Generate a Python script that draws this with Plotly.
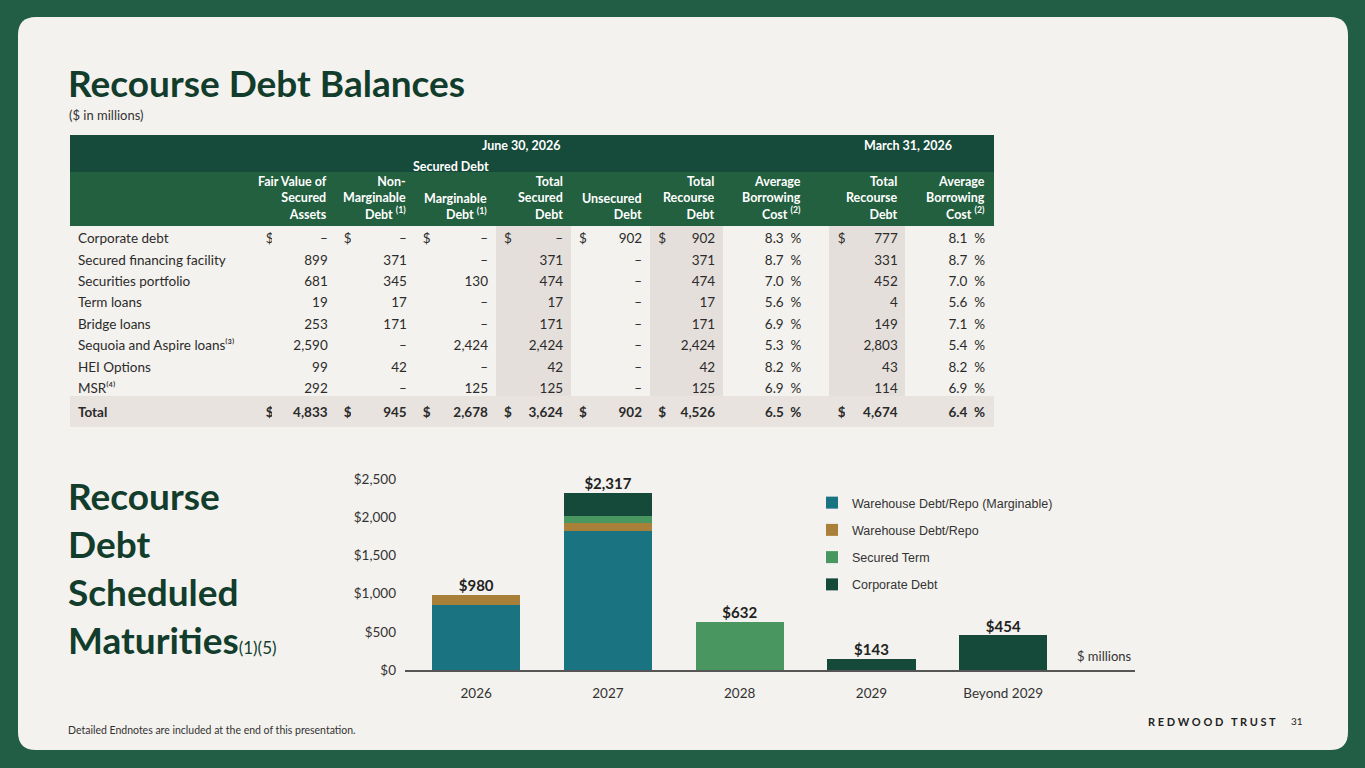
import plotly.graph_objects as go

W, H = 1365, 768
def px(x): return x / W
def py(y): return 1 - y / H

# ---------- data ----------
row_labels = ["Corporate debt", "Secured financing facility", "Securities portfolio", "Term loans",
              "Bridge loans", "Sequoia and Aspire loans⁽³⁾", "HEI Options", "MSR⁽⁴⁾", "<b>Total</b>"]
fair_value = ["–", "899", "681", "19", "253", "2,590", "99", "292", "4,833"]
non_marg = ["–", "371", "345", "17", "171", "–", "42", "–", "945"]
marg = ["–", "–", "130", "–", "–", "2,424", "–", "125", "2,678"]
tot_secured = ["–", "371", "474", "17", "171", "2,424", "42", "125", "3,624"]
unsecured = ["902", "–", "–", "–", "–", "–", "–", "–", "902"]
tot_recourse = ["902", "371", "474", "17", "171", "2,424", "42", "125", "4,526"]
avg_cost = ["8.3  %", "8.7  %", "7.0  %", "5.6  %", "6.9  %", "5.3  %", "8.2  %", "6.9  %", "6.5  %"]
mar_tot_recourse = ["777", "331", "452", "4", "149", "2,803", "43", "114", "4,674"]
mar_avg_cost = ["8.1  %", "8.7  %", "7.0  %", "5.6  %", "7.1  %", "5.4  %", "8.2  %", "6.9  %", "6.4  %"]

years = ["2026", "2027", "2028", "2029", "Beyond 2029"]
wh_marginable = [845, 1820, 0, 0, 0]
wh_repo = [135, 100, 0, 0, 0]
secured_term = [0, 90, 632, 0, 0]
corporate = [0, 307, 0, 143, 454]

# ---------- table ----------
def bold_last(col):
    return col[:-1] + ["<b>" + col[-1] + "</b>"]
DOL = ["$"] + [""] * 7 + ["<b>$</b>"]

cols = [
    ("", row_labels, 185, "left", False),
    ("", DOL, 15, "left", False),
    ("Fair Value of<br>Secured<br>Assets", bold_last(fair_value), 62, "right", False),
    ("", DOL, 16, "left", False),
    ("Non-<br>Marginable<br>Debt <sup>(1)</sup>", bold_last(non_marg), 62, "right", False),
    ("", DOL, 16, "left", False),
    ("Marginable<br>Debt <sup>(1)</sup>", bold_last(marg), 64, "right", False),
    ("", DOL, 16, "left", True),
    ("Total<br>Secured<br>Debt", bold_last(tot_secured), 58, "right", True),
    ("", DOL, 16, "left", False),
    ("Unsecured<br>Debt", bold_last(unsecured), 62, "right", False),
    ("", DOL, 16, "left", True),
    ("Total<br>Recourse<br>Debt", bold_last(tot_recourse), 56, "right", True),
    ("Average<br>Borrowing<br>Cost <sup>(2)</sup>", bold_last(avg_cost), 85, "right", False),
    ("", [""] * 9, 20, "left", False),
    ("", DOL, 16, "left", True),
    ("Total<br>Recourse<br>Debt", bold_last(mar_tot_recourse), 59, "right", True),
    ("Average<br>Borrowing<br>Cost <sup>(2)</sup>", bold_last(mar_avg_cost), 86, "right", False),
]
BG = "#f4f2ee"
SHADE = "#e5dfdb"
TOT = "#e8e3df"
fills = [[SHADE if c[4] else BG] * 8 + [TOT] for c in cols]
fills[14] = [BG] * 8 + [TOT]

TX0, TX1 = 70, 994
table = go.Table(
    domain=dict(x=[px(TX0), px(TX1)], y=[py(428), py(172)]),
    columnwidth=[c[2] for c in cols],
    header=dict(values=[""] * len(cols), fill_color="#23603f", line_color="#23603f", height=53),
    cells=dict(values=[c[1] for c in cols], fill_color=fills, line_color=fills,
               height=21.4, align=[c[3] for c in cols],
               font=dict(family="Lato", size=13.5, color="#2b2b2b")),
)

# ---------- bars ----------
xs = list(range(len(years)))
bar_specs = [("Warehouse Debt/Repo (Marginable)", wh_marginable, "#1a7380"),
             ("Warehouse Debt/Repo", wh_repo, "#a8803a"),
             ("Secured Term", secured_term, "#4a9660"),
             ("Corporate Debt", corporate, "#154a3a")]
traces = [table]
for i, (nm, vals, col) in enumerate(bar_specs):
    traces.append(go.Bar(x=xs, y=vals, name=nm, marker=dict(color=col, line_width=0),
                         width=0.67, legendgroup=f"g{i}", xaxis="x", yaxis="y"))
totals = [sum(v) for v in zip(wh_marginable, wh_repo, secured_term, corporate)]
traces.append(go.Scatter(x=xs, y=totals, mode="text", text=[f"<b>${t:,}</b>" for t in totals],
                         textposition="top center", showlegend=False, cliponaxis=False,
                         textfont=dict(family="Lato", size=15, color="#222")))

fig = go.Figure(traces)

card = (f"M {px(36)},{py(17)} L {px(1330)},{py(17)} Q {px(1348)},{py(17)} {px(1348)},{py(35)} "
        f"L {px(1348)},{py(732)} Q {px(1348)},{py(750)} {px(1330)},{py(750)} "
        f"L {px(36)},{py(750)} Q {px(18)},{py(750)} {px(18)},{py(732)} "
        f"L {px(18)},{py(35)} Q {px(18)},{py(17)} {px(36)},{py(17)} Z")
shapes = [
    dict(type="path", path=card, xref="paper", yref="paper", fillcolor=BG, line_width=0, layer="below"),
    dict(type="rect", xref="paper", yref="paper", x0=px(TX0), x1=px(TX1), y0=py(172), y1=py(135),
         fillcolor="#164a3a", line_width=0),
]
ann = [
    dict(x=px(66), y=py(82), text="<b>Recourse Debt Balances</b>", font=dict(family="Lato", size=37, color="#123d2c")),
    dict(x=px(67), y=py(115), text="($ in millions)", font=dict(family="Lato", size=13, color="#333")),
    dict(x=px(66), y=py(567), text="<b>Recourse<br>Debt<br>Scheduled<br>Maturities</b><span style='font-size:17px'>(1)(5)</span>",
         font=dict(family="Lato", size=37, color="#123d2c")),
    dict(x=px(521), y=py(146), text="<b>June 30, 2026</b>", xanchor="center", font=dict(family="Lato", size=12.5, color="white")),
    dict(x=px(451), y=py(166), text="<b>Secured Debt</b>", xanchor="center", font=dict(family="Lato", size=12.5, color="white")),
    dict(x=px(908), y=py(146), text="<b>March 31, 2026</b>", xanchor="center", font=dict(family="Lato", size=12.5, color="white")),
    dict(x=px(66), y=py(730), text="Detailed Endnotes are included at the end of this presentation.",
         font=dict(family="Lato", size=10.5, color="#333")),
    dict(x=px(1278), y=py(721), text="<b>R E D W O O D   T R U S T</b>", xanchor="right",
         font=dict(family="Lato", size=11, color="#222")),
    dict(x=px(1305), y=py(721), text="31", xanchor="right", font=dict(family="Lato", size=10, color="#222")),
    dict(x=px(1134), y=py(656), text="$ millions", xanchor="right", font=dict(family="Lato", size=13, color="#333")),
]
for a in ann:
    a.setdefault("xanchor", "left")
    a.update(xref="paper", yref="paper", yanchor="middle", showarrow=False, align="left")

scale = (TX1 - TX0) / sum(c[2] for c in cols)
edge = TX0
for c in cols:
    edge += c[2] * scale
    if c[0]:
        ann.append(dict(x=px(edge - 7), y=py(224), xref="paper", yref="paper", xanchor="right",
                        yanchor="bottom", align="right", showarrow=False, text="<b>" + c[0] + "</b>",
                        font=dict(family="Lato", size=12.5, color="white")))

fig.update_layout(
    width=W, height=H, margin=dict(l=0, r=0, t=0, b=0, pad=0, autoexpand=False),
    paper_bgcolor="#215e45", plot_bgcolor=BG,
    barmode="stack", bargap=0,
    shapes=shapes, annotations=ann,
    xaxis=dict(domain=[px(405), px(1135)], range=[-0.54, 5.0], tickvals=xs, ticktext=years,
               showgrid=False, zeroline=False, showline=True, linecolor="#555", linewidth=1.5,
               tickfont=dict(family="Lato", size=13.5, color="#333"), ticks="", automargin=False,
               ticklabelstandoff=10),
    yaxis=dict(domain=[py(670), py(479)], range=[0, 2500], tickvals=[0, 500, 1000, 1500, 2000, 2500],
               ticktext=["$0", "$500", "$1,000", "$1,500", "$2,000", "$2,500"], showgrid=False,
               zeroline=False, tickfont=dict(family="Lato", size=13.5, color="#333"), ticks="",
               ticklabelstandoff=8, automargin=False),
    legend=dict(x=px(812), y=py(488), xanchor="left", yanchor="top", traceorder="grouped",
                tracegroupgap=8, bgcolor="rgba(0,0,0,0)",
                font=dict(family="Liberation Sans", size=12.5, color="#333"),
                itemwidth=30),
)
fig.write_html("out.html", config={"displayModeBar": False},
               post_script="document.body.style.margin='0';document.body.style.overflow='hidden';")
